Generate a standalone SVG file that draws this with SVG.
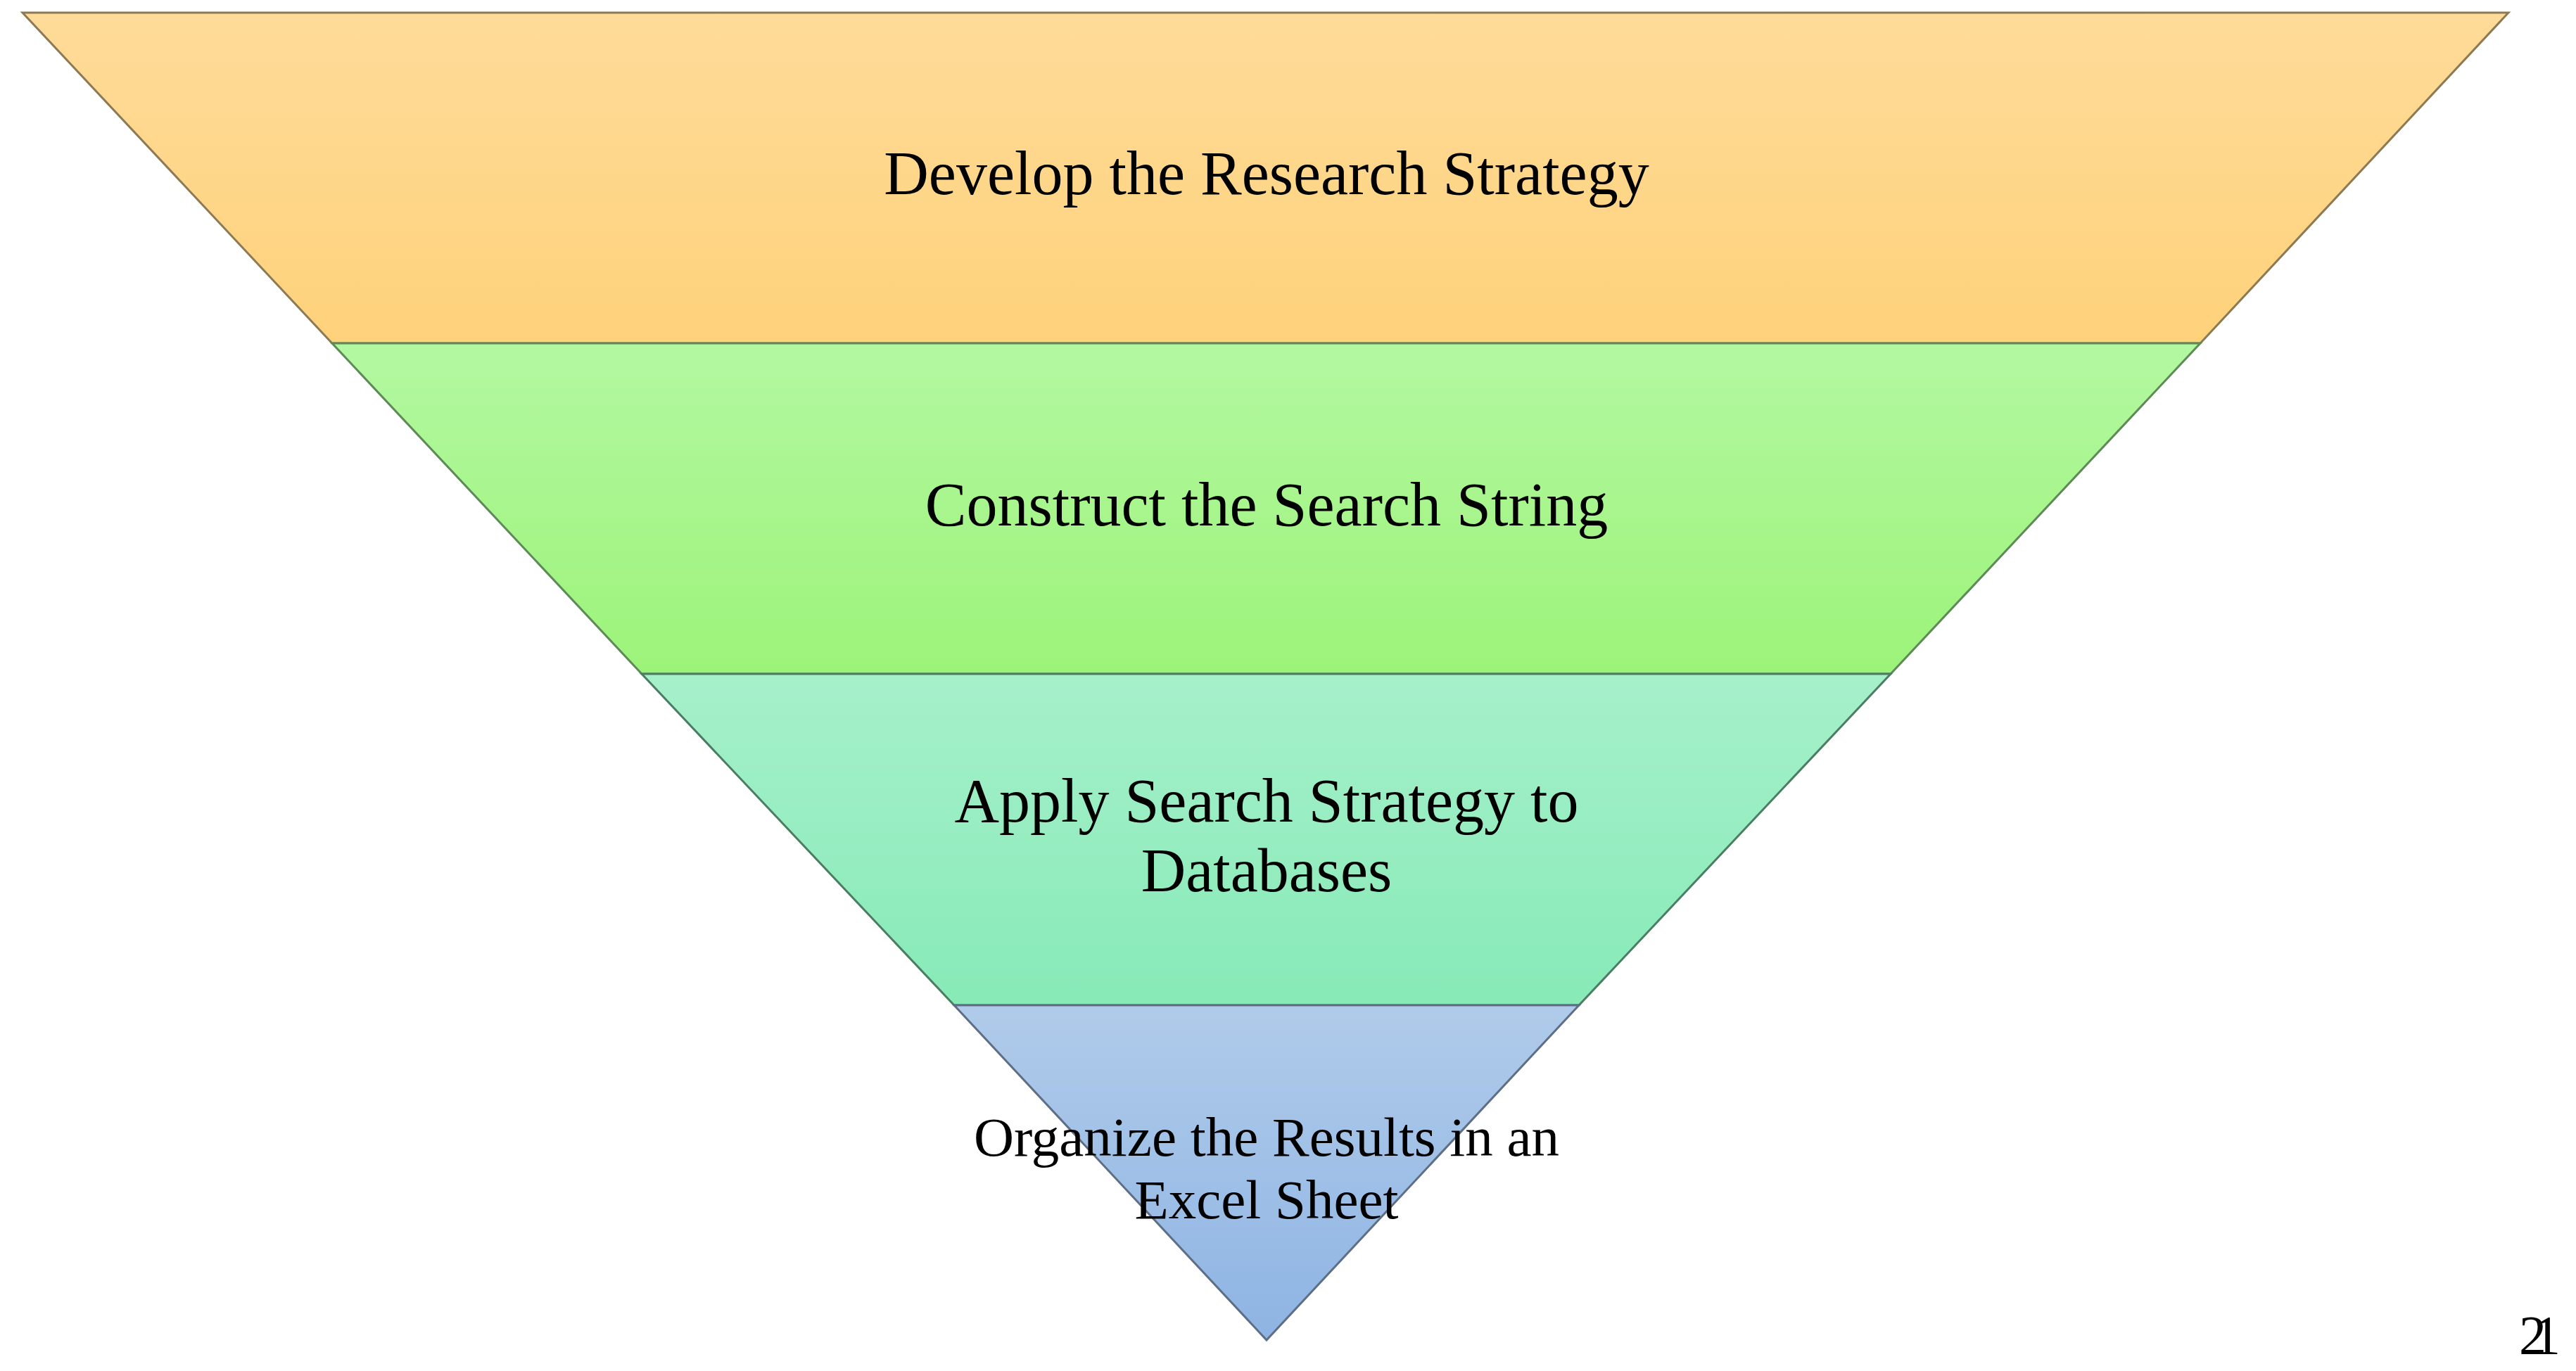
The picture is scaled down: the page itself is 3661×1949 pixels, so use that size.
<svg xmlns="http://www.w3.org/2000/svg" width="3661" height="1949" viewBox="0 0 3661 1949">
<style>
.band{stroke-width:3;stroke-linejoin:miter}
.lbl{font-family:"Liberation Serif","Times New Roman",serif;fill:#000;text-anchor:middle}
.big{font-size:88px}
.small{font-size:79px}
.num{font-family:"Liberation Serif","Times New Roman",serif;font-size:78px;fill:#000}
</style>
<defs>
<linearGradient id="g1" x1="0" y1="0" x2="0" y2="1"><stop offset="0" stop-color="#FEDB99"/><stop offset="1" stop-color="#FED27B"/></linearGradient>
<linearGradient id="g2" x1="0" y1="0" x2="0" y2="1"><stop offset="0" stop-color="#B3F8A1"/><stop offset="1" stop-color="#9CF379"/></linearGradient>
<linearGradient id="g3" x1="0" y1="0" x2="0" y2="1"><stop offset="0" stop-color="#A6F0CA"/><stop offset="1" stop-color="#87EAB7"/></linearGradient>
<linearGradient id="g4" x1="0" y1="0" x2="0" y2="1"><stop offset="0" stop-color="#B0CBEA"/><stop offset="1" stop-color="#8EB4E3"/></linearGradient>
</defs>
<g id="band1">
<polygon class="band" points="32,18 3565,18 3127,488 472,488" fill="url(#g1)" stroke="#8C7A55"/>
<text class="lbl big" x="1800" y="276">Develop the Research Strategy</text>
</g>
<g id="band2">
<polygon class="band" points="472,488 3127,488 2687,958 912,958" fill="url(#g2)" stroke="#5E8A58"/>
<text class="lbl big" x="1800" y="747">Construct the Search String</text>
</g>
<g id="band3">
<polygon class="band" points="912,958 2687,958 2244,1429 1356,1429" fill="url(#g3)" stroke="#4A7D62"/>
<text class="lbl big" x="1800" y="1168">Apply Search Strategy to</text>
<text class="lbl big" x="1800" y="1267">Databases</text>
</g>
<g id="band4">
<polygon class="band" points="1356,1429 2244,1429 1800,1905" fill="url(#g4)" stroke="#5E6E85"/>
<text class="lbl small" x="1800" y="1643">Organize the Results in an</text>
<text class="lbl small" x="1800" y="1732">Excel Sheet</text>
</g>
<g id="connectors"></g>
<g id="pagenum">
<text class="num" x="3580" y="1924">2</text>
<text class="num" x="3600" y="1924">1</text>
</g>
</svg>
